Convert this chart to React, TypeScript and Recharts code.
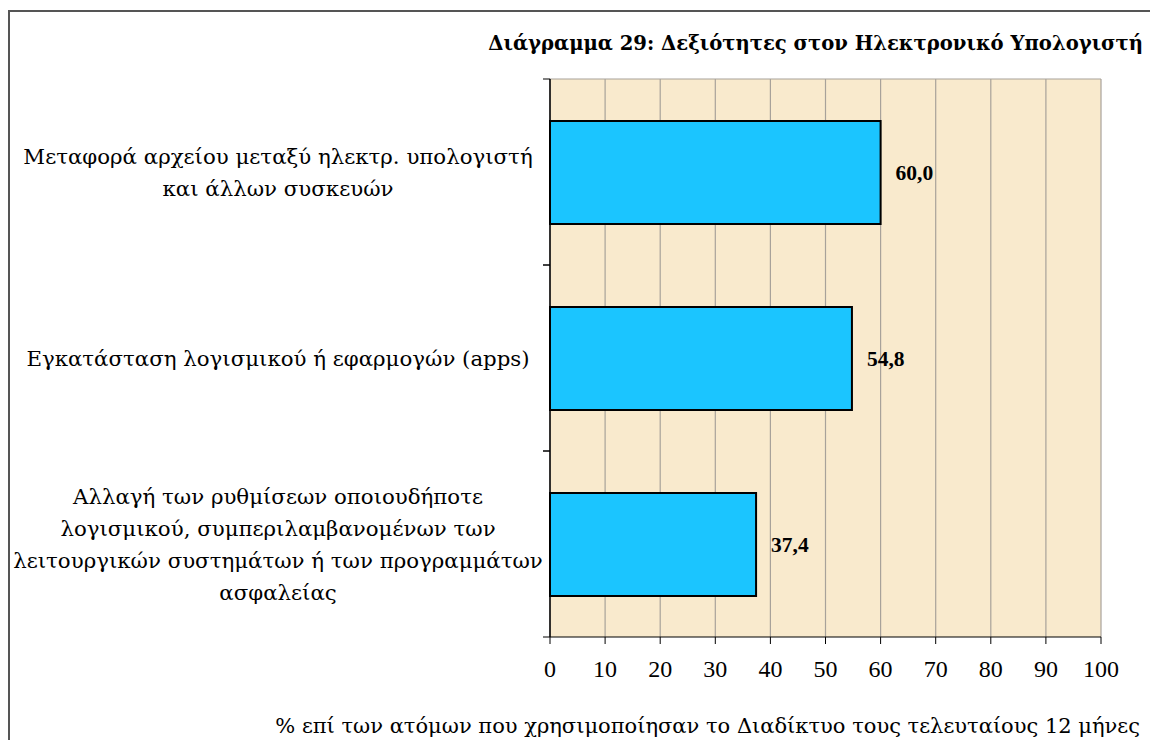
import React from "react";
import { BarChart, Bar, XAxis, YAxis, CartesianGrid, LabelList } from "recharts";

const categories: string[] = [
  "Μεταφορά αρχείου μεταξύ ηλεκτρ. υπολογιστή\nκαι άλλων συσκευών",
  "Εγκατάσταση λογισμικού ή εφαρμογών (apps)",
  "Αλλαγή των ρυθμίσεων οποιουδήποτε\nλογισμικού, συμπεριλαμβανομένων των\nλειτουργικών συστημάτων ή των προγραμμάτων\nασφαλείας",
];
const values: number[] = [60.0, 54.8, 37.4];
const xTicks: number[] = [0, 10, 20, 30, 40, 50, 60, 70, 80, 90, 100];
const title = "Διάγραμμα 29: Δεξιότητες στον Ηλεκτρονικό Υπολογιστή";
const footnote = "% επί των ατόμων που χρησιμοποίησαν το Διαδίκτυο τους τελευταίους 12 μήνες";

const data = categories.map((c, i) => ({ name: c, value: values[i] }));

const FONT = "'DejaVu Serif', serif";
const NUMFONT = "'Liberation Serif', 'Times New Roman', serif";
const W = 1150;
const H = 740;
const M = { top: 79, right: 49, bottom: 53, left: 20 };
const Y_W = 530;
const BAND = (H - M.top - M.bottom - 50) / categories.length;

const YTick = (props: any) => {
  const { y, payload } = props;
  const lines = String(payload.value).split("\n");
  const n = lines.length;
  const lh = 32;
  const axisX = M.left + Y_W;
  return (
    <g>
      <line x1={axisX - 7} x2={axisX} y1={y - BAND / 2} y2={y - BAND / 2} stroke="#000" strokeWidth={1} />
      <line x1={axisX - 7} x2={axisX} y1={y + BAND / 2} y2={y + BAND / 2} stroke="#000" strokeWidth={1} />
      <text textAnchor="middle" fontFamily={FONT} fontSize={21.3} fill="#000">
        {lines.map((l, i) => (
          <tspan key={i} x={278} y={y + (i - (n - 1) / 2) * lh + 7.5}>
            {l}
          </tspan>
        ))}
      </text>
    </g>
  );
};

export default function App() {
  return (
    <div style={{ position: "absolute", left: 0, top: 0, width: W, height: H, overflow: "hidden", background: "#fff" }}>
      <div
        style={{
          position: "absolute",
          left: 8,
          top: 10,
          width: 1300,
          height: 900,
          border: "2px solid #555",
          boxSizing: "border-box",
        }}
      />
      <div
        style={{
          position: "absolute",
          right: 7,
          top: 32,
          fontFamily: FONT,
          fontWeight: "bold",
          fontSize: 19.6,
          lineHeight: "24px",
          whiteSpace: "nowrap",
          color: "#000",
        }}
      >
        {title}
      </div>
      <div
        style={{
          position: "absolute",
          right: 10,
          top: 713,
          fontFamily: FONT,
          fontSize: 21,
          lineHeight: "26px",
          whiteSpace: "nowrap",
          color: "#000",
        }}
      >
        {footnote}
      </div>
      <div style={{ position: "absolute", left: 0, top: 0 }}>
        <BarChart width={W} height={H} data={data} layout="vertical" margin={M}>
          <CartesianGrid
            fill="#F9EACD"
            stroke="#A8A29A"
            strokeWidth={1.2}
            horizontal={true}
            horizontalPoints={[M.top]}
            vertical={true}
          />
          <XAxis
            type="number"
            domain={[0, 100]}
            ticks={xTicks}
            interval={0}
            height={50}
            axisLine={{ stroke: "#000", strokeWidth: 1.2 }}
            tickLine={{ stroke: "#000", strokeWidth: 1 }}
            tickSize={7}
            tickMargin={16}
            tick={{ fontFamily: NUMFONT, fontSize: 24, fill: "#000" }}
          />
          <YAxis
            type="category"
            dataKey="name"
            width={Y_W}
            axisLine={{ stroke: "#000", strokeWidth: 1.5 }}
            tickLine={false}
            tick={<YTick />}
            interval={0}
          />
          <Bar dataKey="value" fill="#1BC5FF" stroke="#000" strokeWidth={2} barSize={103} isAnimationActive={false}>
            <LabelList
              dataKey="value"
              position="right"
              offset={15}
              formatter={(v: any) => Number(v).toFixed(1).replace(".", ",")}
              style={{ fontFamily: NUMFONT, fontSize: 21.5, fontWeight: "bold", fill: "#000" }}
            />
          </Bar>
        </BarChart>
      </div>
    </div>
  );
}
